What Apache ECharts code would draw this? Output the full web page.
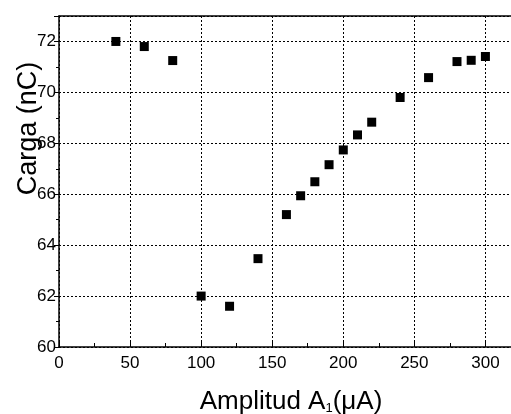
<!DOCTYPE html>
<html>
<head>
<meta charset="utf-8">
<script src="https://cdn.jsdelivr.net/npm/echarts@6/dist/echarts.min.js"></script>
<style>
  html, body { margin: 0; padding: 0; background: #fff; }
  #chart { width: 511px; height: 414px; }
</style>
</head>
<body>
<div id="chart"></div>
<script>
// amplitude A1 (uA) and charge (nC)
const amplitud = [40, 60, 80, 100, 120, 140, 160, 170, 180, 190, 200, 210, 220, 240, 260, 280, 290, 300];
const carga = [72.0, 71.8, 71.25, 62.0, 61.6, 63.47, 65.2, 65.94, 66.49, 67.16, 67.74, 68.33, 68.83, 69.8, 70.58, 71.21, 71.26, 71.41];

const puntos = amplitud.map((a, i) => [a, carga[i]]);

const chart = echarts.init(document.getElementById('chart'));

const fuente = 'Liberation Sans, Arial, sans-serif';
const dotted = { show: true, lineStyle: { color: '#000', type: [2, 2], width: 1 } };

const option = {
  animation: false,
  grid: { left: 59, right: 0, top: 16, bottom: 67, outerBoundsMode: 'none', containLabel: false },
  xAxis: [
    {
      type: 'value',
      min: 0,
      max: 318,
      interval: 50,
      name: '{t|Amplitud A}{s|1}{t|(μA)}',
      nameLocation: 'middle',
      nameGap: 41,
      nameMoveOverlap: false,
      nameTextStyle: {
        padding: [0, 0, 0, 12],
        rich: {
          t: { fontFamily: fuente, fontSize: 26, color: '#000' },
          s: { fontFamily: fuente, fontSize: 13, color: '#000', verticalAlign: 'bottom', padding: [14, 0, 0, 0] }
        }
      },
      axisLine: { show: true, lineStyle: { color: '#000', width: 1.5 } },
      axisTick: { show: true, inside: true, length: 5, lineStyle: { color: '#000' } },
      minorTick: { show: true, splitNumber: 2, length: 4, lineStyle: { color: '#000' } },
      axisLabel: { fontFamily: fuente, fontSize: 17, color: '#000', margin: 8, showMaxLabel: false },
      splitLine: dotted
    },
    {
      type: 'value',
      position: 'top',
      min: 0,
      max: 318,
      axisLine: { show: true, lineStyle: { color: '#000', width: 1.5 } },
      axisTick: { show: false },
      axisLabel: { show: false },
      splitLine: { show: false }
    }
  ],
  yAxis: {
    type: 'value',
    min: 60,
    max: 73,
    interval: 2,
    name: 'Carga (nC)',
    nameLocation: 'middle',
    nameGap: 17,
    nameMoveOverlap: false,
    nameTextStyle: { fontFamily: fuente, fontSize: 27, color: '#000', padding: [0, 0, 0, 106] },
    axisLine: { show: true, lineStyle: { color: '#000', width: 1.5 } },
    axisTick: { show: true, length: 5, lineStyle: { color: '#000' } },
    minorTick: { show: true, splitNumber: 2, length: 3, lineStyle: { color: '#000' } },
    axisLabel: {
      fontFamily: fuente, fontSize: 17, color: '#000', margin: 3,
      formatter: (v) => (v > 72 ? '' : String(v))
    },
    splitLine: dotted
  },
  series: [
    {
      type: 'scatter',
      data: puntos,
      symbol: 'rect',
      symbolSize: 9,
      itemStyle: { color: '#000', opacity: 1 }
    }
  ]
};

chart.setOption(option);
</script>
</body>
</html>
